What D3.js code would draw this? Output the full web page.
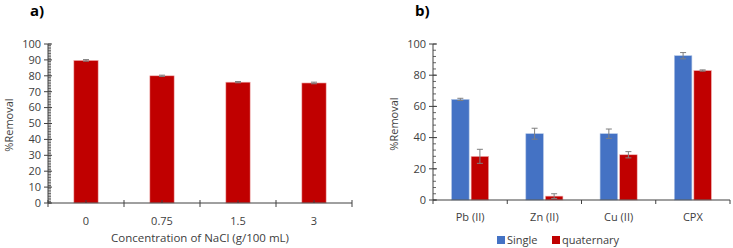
<!DOCTYPE html>
<html>
<head>
<meta charset="utf-8">
<script src="https://cdn.jsdelivr.net/npm/d3@7"></script>
<style>
  body { margin: 0; background: #fff; }
  svg { font-family: "Open Sans", "Liberation Sans", sans-serif; }
</style>
</head>
<body>
<svg id="chart" width="733" height="248"></svg>
<script>
// panel a) NaCl effect
const naclLabels = ["0", "0.75", "1.5", "3"];
const naclValues = [89.7, 80.0, 76.0, 75.5];
const naclErrors = [0.5, 0.4, 0.4, 0.5];

// panel b) single vs quaternary
const metals = ["Pb (II)", "Zn (II)", "Cu (II)", "CPX"];
const seriesNames = ["Single", "quaternary"];
const singleValues = [64.5, 42.5, 42.5, 92.5];
const singleErrors = [0.7, 3.5, 3.0, 2.0];
const quatValues = [28.0, 2.5, 29.0, 83.0];
const quatErrors = [4.5, 1.5, 2.0, 0.4];

const red = "#c00000", blue = "#4472c4", errColor = "#7f7f7f", axisColor = "#404040", textColor = "#404040";

const svg = d3.select("#chart");

function yAxisDraw(g, y, x0, majors, minorStep) {
  // minor ticks pointing inside
  const minors = d3.range(0, 100 + 0.001, minorStep);
  g.selectAll(".minor").data(minors).enter().append("line")
    .attr("x1", x0).attr("x2", x0 + 3)
    .attr("y1", d => y(d)).attr("y2", d => y(d))
    .attr("stroke", axisColor).attr("stroke-width", 0.8);
  g.selectAll(".major").data(majors).enter().append("line")
    .attr("x1", x0 - 4).attr("x2", x0 + 4)
    .attr("y1", d => y(d)).attr("y2", d => y(d))
    .attr("stroke", axisColor).attr("stroke-width", 1);
  g.selectAll(".lab").data(majors).enter().append("text")
    .attr("x", x0 - 7).attr("y", d => y(d)).attr("dy", "0.35em")
    .attr("text-anchor", "end").attr("font-size", 11).attr("fill", textColor)
    .text(d => d);
  g.append("line").attr("x1", x0).attr("x2", x0)
    .attr("y1", y(100)).attr("y2", y(0))
    .attr("stroke", axisColor).attr("stroke-width", 1);
}

function errBars(g, data, cap) {
  g.selectAll(null).data(data).enter().append("path")
    .attr("d", d => `M${d.x - cap},${d.y1}H${d.x + cap}M${d.x},${d.y1}V${d.y2}M${d.x - cap},${d.y2}H${d.x + cap}`)
    .attr("stroke", errColor).attr("stroke-width", 1).attr("fill", "none");
}

// ---------- panel a ----------
{
  const left = 48, right = 352, top = 44, bottom = 203;
  const g = svg.append("g");
  const y = d3.scaleLinear().domain([0, 100]).range([bottom, top]);
  const x = d3.scaleBand().domain(naclLabels).range([left, right]).paddingInner(0.68).paddingOuter(0.34);
  const step = x.step();

  g.selectAll("rect").data(naclLabels).enter().append("rect")
    .attr("x", d => x(d)).attr("width", x.bandwidth())
    .attr("y", (d, i) => y(naclValues[i]))
    .attr("height", (d, i) => y(0) - y(naclValues[i]))
    .attr("fill", red).attr("stroke", "#f2b8b8").attr("stroke-width", 0.6);

  errBars(g, naclLabels.map((d, i) => ({
    x: x(d) + x.bandwidth() / 2,
    y1: y(naclValues[i] + naclErrors[i]), y2: y(naclValues[i] - naclErrors[i])
  })), 3);

  yAxisDraw(g, y, left, d3.range(0, 101, 10), 1);

  // x axis
  g.append("line").attr("x1", left).attr("x2", right).attr("y1", bottom).attr("y2", bottom)
    .attr("stroke", axisColor);
  const bounds = d3.range(0, naclLabels.length + 1).map(i => left + i * step);
  g.selectAll(".xt").data(bounds).enter().append("line")
    .attr("x1", d => d).attr("x2", d => d).attr("y1", bottom - 3).attr("y2", bottom + 4)
    .attr("stroke", axisColor);
  g.selectAll(".xc").data(naclLabels).enter().append("line")
    .attr("x1", d => x(d) + x.bandwidth() / 2).attr("x2", d => x(d) + x.bandwidth() / 2)
    .attr("y1", bottom - 3).attr("y2", bottom).attr("stroke", axisColor);
  g.selectAll(".xl").data(naclLabels).enter().append("text")
    .attr("x", d => x(d) + x.bandwidth() / 2).attr("y", 221).attr("dy", "0.35em")
    .attr("text-anchor", "middle").attr("font-size", 11).attr("fill", textColor)
    .text(d => d);

  g.append("text").attr("x", 200).attr("y", 238).attr("dy", "0.35em")
    .attr("text-anchor", "middle").attr("font-size", 11.5).attr("fill", textColor)
    .text("Concentration of NaCl (g/100 mL)");
  g.append("text").attr("transform", "translate(9,125) rotate(-90)").attr("dy", "0.35em")
    .attr("text-anchor", "middle").attr("font-size", 11).attr("fill", textColor)
    .text("%Removal");
  g.append("text").attr("x", 30).attr("y", 11).attr("dy", "0.35em")
    .attr("font-size", 15).attr("font-weight", "bold").attr("fill", "#000").text("a)");
}

// ---------- panel b ----------
{
  const left = 433, right = 730, top = 44, bottom = 200;
  const g = svg.append("g");
  const y = d3.scaleLinear().domain([0, 100]).range([bottom, top]);
  const x = d3.scaleBand().domain(metals).range([left, right]).paddingInner(0.5).paddingOuter(0.25);
  const xs = d3.scaleBand().domain(seriesNames).range([0, x.bandwidth()]).paddingInner(0.1);
  const step = x.step();
  const series = [
    { name: "Single", values: singleValues, errors: singleErrors, color: blue, edge: "#b4c7e7" },
    { name: "quaternary", values: quatValues, errors: quatErrors, color: red, edge: "#f2b8b8" }
  ];

  series.forEach(s => {
    g.selectAll(null).data(metals).enter().append("rect")
      .attr("x", d => x(d) + xs(s.name)).attr("width", xs.bandwidth())
      .attr("y", (d, i) => y(s.values[i]))
      .attr("height", (d, i) => y(0) - y(s.values[i]))
      .attr("fill", s.color).attr("stroke", s.edge).attr("stroke-width", 0.6);
  });
  series.forEach(s => {
    errBars(g, metals.map((d, i) => ({
      x: x(d) + xs(s.name) + xs.bandwidth() / 2,
      y1: y(s.values[i] + s.errors[i]), y2: y(s.values[i] - s.errors[i])
    })), 3);
  });

  yAxisDraw(g, y, left, d3.range(0, 101, 20), 4);

  g.append("line").attr("x1", left).attr("x2", right).attr("y1", bottom).attr("y2", bottom)
    .attr("stroke", axisColor);
  const bounds = d3.range(0, metals.length + 1).map(i => left + i * step);
  g.selectAll(".xt").data(bounds).enter().append("line")
    .attr("x1", d => d).attr("x2", d => d).attr("y1", bottom).attr("y2", bottom + 4)
    .attr("stroke", axisColor);
  g.selectAll(".xl").data(metals).enter().append("text")
    .attr("x", d => x(d) + x.bandwidth() / 2).attr("y", 217).attr("dy", "0.35em")
    .attr("text-anchor", "middle").attr("font-size", 11).attr("fill", textColor)
    .text(d => d);

  g.append("text").attr("transform", "translate(394,124) rotate(-90)").attr("dy", "0.35em")
    .attr("text-anchor", "middle").attr("font-size", 11).attr("fill", textColor)
    .text("%Removal");
  g.append("text").attr("x", 415).attr("y", 11).attr("dy", "0.35em")
    .attr("font-size", 15).attr("font-weight", "bold").attr("fill", "#000").text("b)");

  // legend
  const legX = [497, 552];
  series.forEach((s, i) => {
    g.append("rect").attr("x", legX[i]).attr("y", 236).attr("width", 8).attr("height", 8)
      .attr("fill", s.color);
    g.append("text").attr("x", legX[i] + 10).attr("y", 240).attr("dy", "0.35em")
      .attr("font-size", 11).attr("fill", textColor).text(s.name);
  });
}
</script>
</body>
</html>
